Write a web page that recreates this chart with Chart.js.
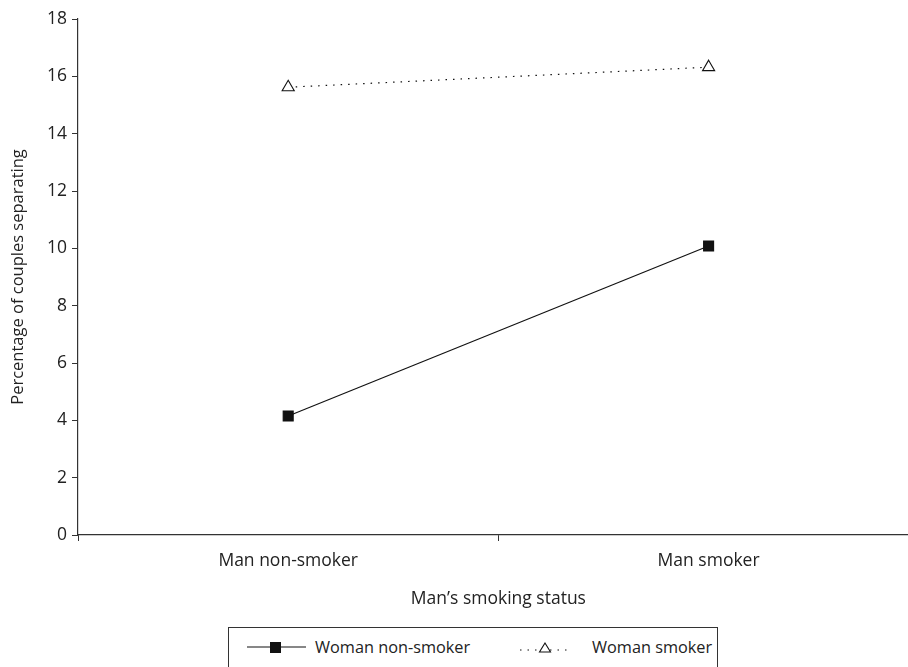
<!DOCTYPE html>
<html>
<head>
<meta charset="utf-8">
<script src="https://cdn.jsdelivr.net/npm/chart.js@4.4.1/dist/chart.umd.min.js"></script>
<style>
  html, body { margin: 0; padding: 0; background: #fff; overflow: hidden; }
  #wrap { position: relative; width: 908px; height: 667px; overflow: hidden; }
  #stats { position: absolute; left: 0; top: 0; }
  #legend {
    position: absolute; left: 228px; top: 627px; width: 490px; height: 50px;
    border: 1px solid #333; box-sizing: border-box;
    font-family: "Open Sans", sans-serif; font-size: 16.3px; color: #222;
  }
  #legend .item { position: absolute; top: 8px; display: flex; align-items: center; }
  #legend svg { margin-right: 8px; }
</style>
</head>
<body>
<div id="wrap">
  <canvas id="stats" width="927" height="622"></canvas>
  <div id="legend">
    <div class="item" style="left:18px">
      <svg width="60" height="16"><line x1="0" y1="8" x2="59" y2="8" stroke="#111" stroke-width="1.2"/><rect x="23" y="3" width="11" height="11" fill="#111"/></svg>
      <span>Woman non-smoker</span>
    </div>
    <div class="item" style="left:291px">
      <svg width="64" height="16"><line x1="0" y1="11" x2="48" y2="11" stroke="#111" stroke-width="1.2" stroke-dasharray="1.5,6"/><polygon points="25,4 19.5,13 30.5,13" fill="#fff" stroke="#111" stroke-width="1.1"/></svg>
      <span>Woman smoker</span>
    </div>
  </div>
</div>
<script>
var categories = ["Man non-smoker", "Man smoker"];
var womanNonSmoker = [4.15, 10.08];
var womanSmoker = [15.62, 16.32];
var yTicks = [0, 2, 4, 6, 8, 10, 12, 14, 16, 18];

function createChart(){
    var canvas = document.querySelector("#stats").getContext("2d");
    var font = {family: "'Open Sans', sans-serif", size: 17.5};

    new Chart(canvas, {
        type: "line",
        data: {
            labels: categories,
            datasets: [{
                label: "Woman non-smoker",
                data: womanNonSmoker,
                borderColor: "#111",
                borderWidth: 1.2,
                pointStyle: "rect",
                pointRadius: 7,
                pointBackgroundColor: "#111",
                pointBorderColor: "#111",
                tension: 0
            }, {
                label: "Woman smoker",
                data: womanSmoker,
                borderColor: "#111",
                borderWidth: 1.2,
                borderDash: [1.5, 6],
                pointStyle: "triangle",
                pointRadius: 7,
                pointBackgroundColor: "#fff",
                pointBorderColor: "#111",
                pointBorderWidth: 1.1,
                tension: 0
            }]
        },
        options: {
            responsive: false,
            animation: false,
            layout: {padding: {top: 19, right: 0, left: 8, bottom: 0}},
            plugins: {legend: {display: false}, tooltip: {enabled: false}},
            scales: {
                x: {
                    offset: true,
                    grid: {display: true, drawOnChartArea: false, tickLength: 6, color: "#333", offset: true},
                    border: {color: "#333", width: 1.2},
                    ticks: {color: "#222", font: font, padding: 10},
                    title: {display: true, text: "Man\u2019s smoking status", color: "#222", font: font, padding: {top: 4, bottom: 12}},
                    afterFit: function(s){ s.height = 87; }
                },
                y: {
                    min: 0,
                    max: 18,
                    afterBuildTicks: function(s){ s.ticks = yTicks.map(function(v){ return {value: v}; }); },
                    grid: {drawOnChartArea: false, tickLength: 6, color: "#333"},
                    border: {color: "#333", width: 1.2},
                    ticks: {color: "#222", font: font, padding: 5},
                    title: {display: true, text: "Percentage of couples separating", color: "#222", font: {family: "'Open Sans', sans-serif", size: 16.5}, padding: 0},
                    afterFit: function(s){ s.width = 70; }
                }
            }
        }
    });
}

createChart();
</script>
</body>
</html>
